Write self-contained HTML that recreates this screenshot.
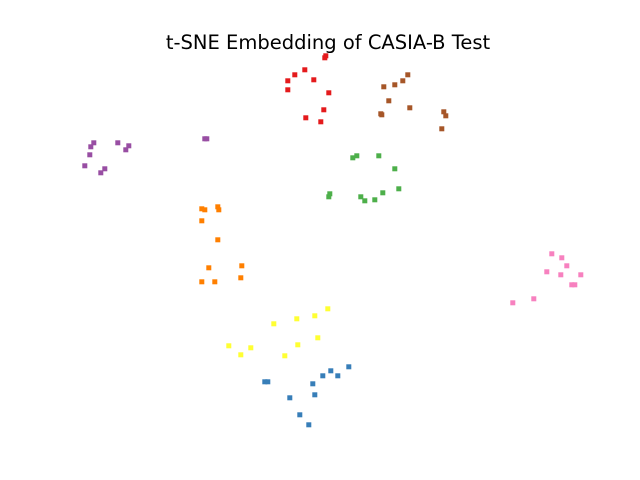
<!DOCTYPE html>
<html><head><meta charset="utf-8"><style>
body{margin:0;background:#fff;}
svg{display:block;font-family:"DejaVu Sans","Liberation Sans",sans-serif;}
</style></head><body>
<svg id="chart" width="640" height="480">
<text x="328" y="49" text-anchor="middle" font-size="19.5" fill="#000">t-SNE Embedding of CASIA-B Test</text>
<g id="points"></g>
</svg>
<script>
const clusterNames = ["red","brown","purple","green","orange","pink","yellow","blue"];
const clusterColors = ["#e41a1c","#a65628","#984ea3","#4daf4a","#ff7f00","#f781bf","#ffff33","#377eb8"];
const redX = [324,325,304,294,287,287,313,328,323,305,320];
const redY = [57,55,69,74,80,89,79,92,109,117,121];
const brownX = [407,402,394,383,388,380,381,409,443,445,441];
const brownY = [74,80,84,86,100,113,114,107,111,115,128];
const purpleX = [93,90,89,84,104,100,117,128,125,204,206];
const purpleY = [142,146,154,165,168,172,142,145,149,138,138];
const greenX = [352,356,378,394,329,328,360,364,374,382,398];
const greenY = [157,155,155,168,193,196,196,200,199,192,188];
const orangeX = [201,204,217,218,201,217,208,241,240,201,214];
const orangeY = [208,209,206,209,220,239,267,265,277,281,281];
const pinkX = [551,561,566,546,560,580,571,574,512,533];
const pinkY = [253,257,265,271,274,274,284,284,302,298];
const yellowX = [327,296,314,273,317,297,284,228,240,250];
const yellowY = [308,318,315,323,337,344,355,345,354,347];
const blueX = [348,330,322,337,264,267,312,314,289,299,308];
const blueY = [366,370,375,375,381,381,383,394,397,414,424];
const seriesX = [redX,brownX,purpleX,greenX,orangeX,pinkX,yellowX,blueX];
const seriesY = [redY,brownY,purpleY,greenY,orangeY,pinkY,yellowY,blueY];

const xDomain=[0,640], yDomain=[0,480];
const xScale = v => (v - xDomain[0]) / (xDomain[1]-xDomain[0]) * 640 + 0.8;
const yScale = v => (v - yDomain[0]) / (yDomain[1]-yDomain[0]) * 480 + 0.8;
const g = document.getElementById('points');
const NS = "http://www.w3.org/2000/svg";
const s = 5;
seriesX.forEach((xs,ci)=>{
  xs.forEach((xv,i)=>{
    const r = document.createElementNS(NS,'rect');
    r.setAttribute('x', xScale(xv)-s/2);
    r.setAttribute('y', yScale(seriesY[ci][i])-s/2);
    r.setAttribute('width', s);
    r.setAttribute('height', s);
    r.setAttribute('fill', clusterColors[ci]);
    
    
    g.appendChild(r);
  });
});
</script>
</body></html>
